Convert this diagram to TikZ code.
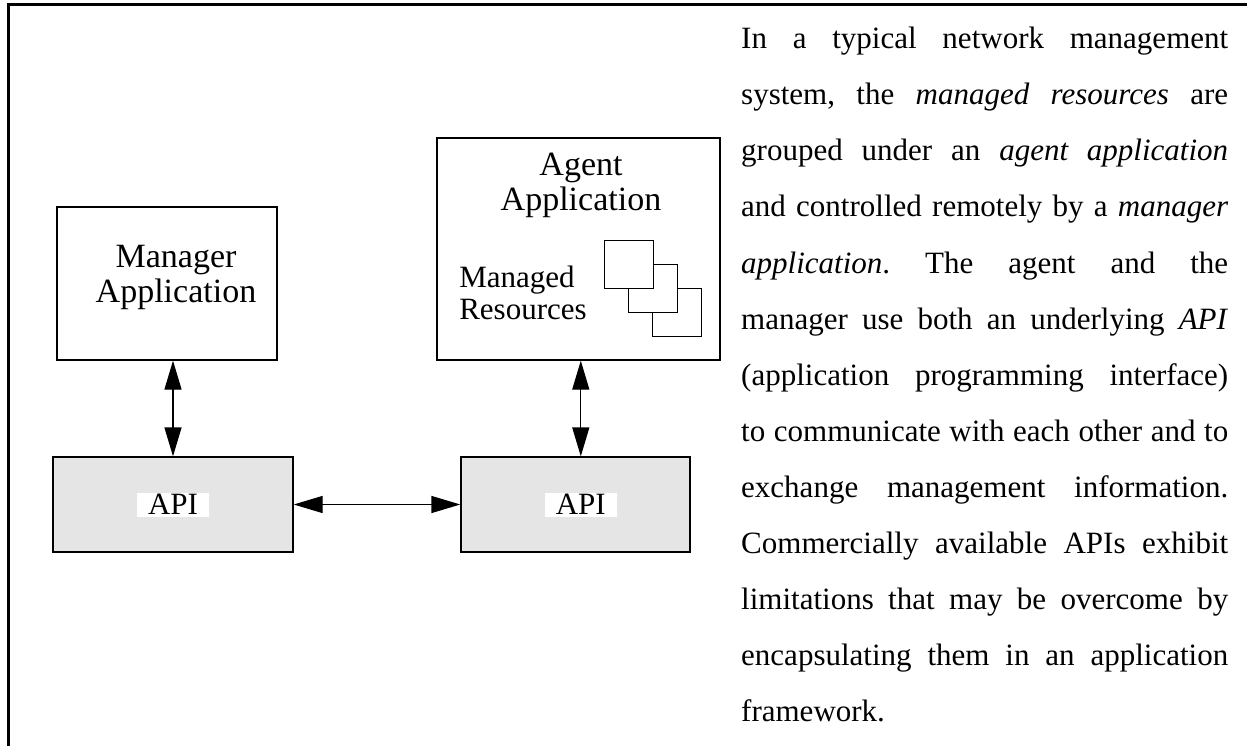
\documentclass[tikz,border=0pt]{standalone}
\usepackage{fontspec}
\setmainfont{Liberation Serif}
\usetikzlibrary{arrows.meta}
\frenchspacing
\definecolor{apigray}{gray}{0.9}
\tikzset{
  appbox/.style={draw, line width=1.3pt, fill=white, inner sep=0pt},
  apibox/.style={draw, line width=1.3pt, fill=apigray, inner sep=0pt},
  apilabel/.style={fill=white, inner sep=0pt, minimum width=72pt, minimum height=24pt,
    font=\fontsize{31}{34}\selectfont},
  boxlabel/.style={align=center, inner sep=0pt, font=\fontsize{34}{35}\selectfont},
  reslabel/.style={align=left, inner sep=0pt, font=\fontsize{31}{32}\selectfont},
  resbox/.style={draw, line width=1.2pt, fill=white, minimum width=49pt,
    minimum height=48pt, inner sep=0pt},
  link/.style={line width=1.3pt,
    {Triangle[length=29pt,width=17pt]}-{Triangle[length=29pt,width=17pt]}},
  para/.style={anchor=base west, inner sep=0pt, font=\fontsize{31}{56}\selectfont},
}
\begin{document}
\begin{tikzpicture}[x=1pt, y=-1pt]
  \useasboundingbox (0,0) rectangle (1247,746);

  % frame (top and left edges)
  \draw[line width=3pt] (1247,4.5) -- (8,4.5) -- (8,746);

  % applications
  \node[appbox, minimum width=220pt, minimum height=153pt] (mgr) at (167,283.5) {};
  \node[boxlabel] (mgrlbl) at (176,277) {Manager\\Application};

  \node[appbox, minimum width=283pt, minimum height=222pt] (agent) at (578.5,249) {};
  \node[boxlabel] (agentlbl) at (581,185) {Agent\\Application};

  % managed resources
  \node[reslabel] (reslbl) at (523,293) {Managed\\Resources};
  \node[resbox] (res3) at (677.2,312.5) {};
  \node[resbox] (res2) at (653.2,288.8) {};
  \node[resbox] (res1) at (628.8,264.5) {};

  % APIs
  \node[apibox, minimum width=240pt, minimum height=95pt] (apiL) at (173,504.5) {};
  \node[apilabel] (apiLlbl) at (173,504.7) {API};
  \node[apibox, minimum width=229pt, minimum height=95pt] (apiR) at (575.5,504.5) {};
  \node[apilabel] (apiRlbl) at (580.8,504.7) {API};

  % connectors
  \draw[link] (mgr.south -| apiLlbl) -- (apiL.north -| apiLlbl);
  \draw[link] (agent.south -| apiRlbl) -- (apiR.north -| apiRlbl);
  \draw[link] (apiL.east) -- (apiR.west);

  % description
  \foreach \txt [count=\i] in {
    {In a typical network management},
    {system, the \textit{managed resources} are},
    {grouped under an \textit{agent application}},
    {and controlled remotely by a \textit{manager}},
    {\textit{application}. The agent and the},
    {manager use both an underlying \textit{API}},
    {(application programming interface)},
    {to communicate with each other and to},
    {exchange management information.},
    {Commercially available APIs exhibit},
    {limitations that may be overcome by},
    {encapsulating them in an application}}
    \node[para] (line\i) at (741,{49+56*(\i-1)}) {\makebox[487pt][s]{\txt}};
  \node[para] (line13) at (741,721) {framework.};
\end{tikzpicture}
\end{document}
